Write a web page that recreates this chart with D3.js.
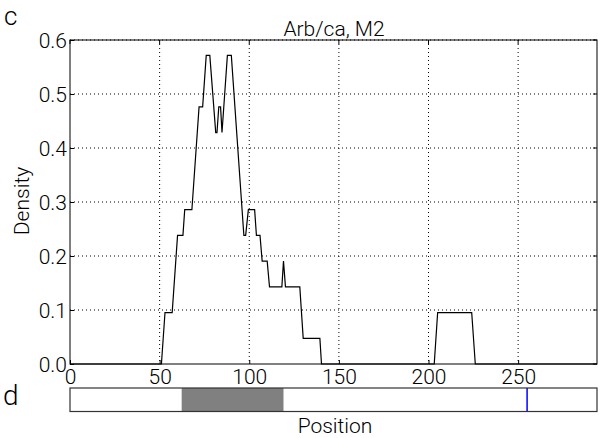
<!DOCTYPE html>
<html>
<head>
<meta charset="utf-8">
<script src="https://cdn.jsdelivr.net/npm/d3@7"></script>
<style>
  body { margin: 0; background: #fff; }
  svg text { font-family: "Roboto", "Liberation Sans", sans-serif; font-weight: 300; fill: #000; }
</style>
</head>
<body>
<svg id="chart" width="601" height="438"></svg>
<script>
// ---- data ----
const positions = [0, 51, 53, 57, 60, 63, 64, 68, 72, 74, 76, 78, 81.3, 82, 83, 84, 84.8, 87.8, 90, 97, 98, 99.5, 103, 104, 106, 107.2, 110, 111.3, 118.2, 119.1, 120.2, 128.2, 130.1, 139.4, 140.3, 203.2, 205.1, 224.1, 226.1, 294];
const density   = [0, 0, 2/21, 2/21, 5/21, 5/21, 6/21, 6/21, 10/21, 10/21, 12/21, 12/21, 9/21, 9/21, 10/21, 10/21, 9/21, 12/21, 12/21, 5/21, 5/21, 6/21, 6/21, 5/21, 5/21, 4/21, 4/21, 3/21, 3/21, 4/21, 3/21, 3/21, 1/21, 1/21, 0, 0, 2/21, 2/21, 0, 0];
const xTicks = [0, 50, 100, 150, 200, 250];
const yTicks = [0.0, 0.1, 0.2, 0.3, 0.4, 0.5, 0.6];
const regionStart = 62.3, regionEnd = 119.1;   // grey region in panel d
const markerPos = [255];                        // blue marker in panel d
const xMax = 294;

// ---- layout ----
const svg = d3.select("#chart");
const L = 70, R = 597, T = 40, B = 364;
const x = d3.scaleLinear().domain([0, xMax]).range([L, R]);
const y = d3.scaleLinear().domain([0, 0.6]).range([B, T]);
const FONT = '"Roboto", "Liberation Sans", sans-serif';

// grid
const grid = svg.append("g");
grid.selectAll("line.gx").data(xTicks.filter(d => d > 0)).join("line")
  .attr("x1", d => x(d)).attr("x2", d => x(d)).attr("y1", T).attr("y2", B)
  .attr("stroke", "#000").attr("stroke-width", 1).attr("stroke-dasharray", "1,3");
grid.selectAll("line.gy").data(yTicks.filter(d => d > 0)).join("line")
  .attr("x1", L).attr("x2", R).attr("y1", d => y(d)).attr("y2", d => y(d))
  .attr("stroke", "#000").attr("stroke-width", 1).attr("stroke-dasharray", "1,3");

// line
const pts = positions.map((p, i) => [p, density[i]]);
svg.append("path").datum(pts)
  .attr("d", d3.line().x(d => x(d[0])).y(d => y(d[1])))
  .attr("fill", "none").attr("stroke", "#000").attr("stroke-width", 1.2);

// frame
svg.append("rect").attr("x", L).attr("y", T).attr("width", R - L).attr("height", B - T)
  .attr("fill", "none").attr("stroke", "#000").attr("stroke-width", 1);

// axes (ticks inward)
const fs = 21;
const xAxis = d3.axisBottom(x).tickValues(xTicks).tickFormat(d3.format("d")).tickSizeInner(-4).tickSizeOuter(0).tickPadding(5);
const gx = svg.append("g").attr("transform", `translate(0,${B})`).call(xAxis);
const yAxis = d3.axisLeft(y).tickValues(yTicks).tickFormat(d3.format(".1f")).tickSizeInner(-4).tickSizeOuter(0).tickPadding(3);
const gy = svg.append("g").attr("transform", `translate(${L},0)`).call(yAxis);
[gx, gy].forEach(g => {
  g.select(".domain").remove();
  g.selectAll("text").style("font-size", fs + "px").style("font-family", FONT).style("font-weight", 300).attr("fill", "#000");
  g.selectAll(".tick line").attr("stroke", "#000");
});
gy.selectAll("text").attr("dy", "0.36em");
gx.selectAll("text").attr("dy", "0.72em");

// top/right inward ticks
svg.append("g").selectAll("line").data(xTicks).join("line")
  .attr("x1", d => x(d)).attr("x2", d => x(d)).attr("y1", T).attr("y2", T + 4).attr("stroke", "#000");
svg.append("g").selectAll("line").data(yTicks).join("line")
  .attr("x1", R).attr("x2", R - 4).attr("y1", d => y(d)).attr("y2", d => y(d)).attr("stroke", "#000");

// labels
svg.append("text").attr("x", 334).attr("y", 36).attr("text-anchor", "middle").style("font-size", "21px").text("Arb/ca, M2");
svg.append("text").attr("transform", "translate(28.5,201) rotate(-90)").attr("text-anchor", "middle").style("font-size", "21px").text("Density");
svg.append("text").attr("x", 4).attr("y", 25).style("font-size", "26px").text("c");
svg.append("text").attr("x", 3).attr("y", 405).style("font-size", "28px").text("d");

// panel d
const dT = 388, dB = 411.5;
svg.append("rect").attr("x", x(regionStart)).attr("y", dT).attr("width", x(regionEnd) - x(regionStart)).attr("height", dB - dT).attr("fill", "#808080");
svg.selectAll("line.marker").data(markerPos).join("line").attr("class", "marker")
  .attr("x1", d => x(d)).attr("x2", d => x(d)).attr("y1", dT).attr("y2", dB).attr("stroke", "#0000ff").attr("stroke-width", 1.5);
svg.append("rect").attr("x", L).attr("y", dT).attr("width", R - L).attr("height", dB - dT)
  .attr("fill", "none").attr("stroke", "#333").attr("stroke-width", 1.2);
svg.append("text").attr("x", 335).attr("y", 433).attr("text-anchor", "middle").style("font-size", "21px").text("Position");
</script>
</body>
</html>
